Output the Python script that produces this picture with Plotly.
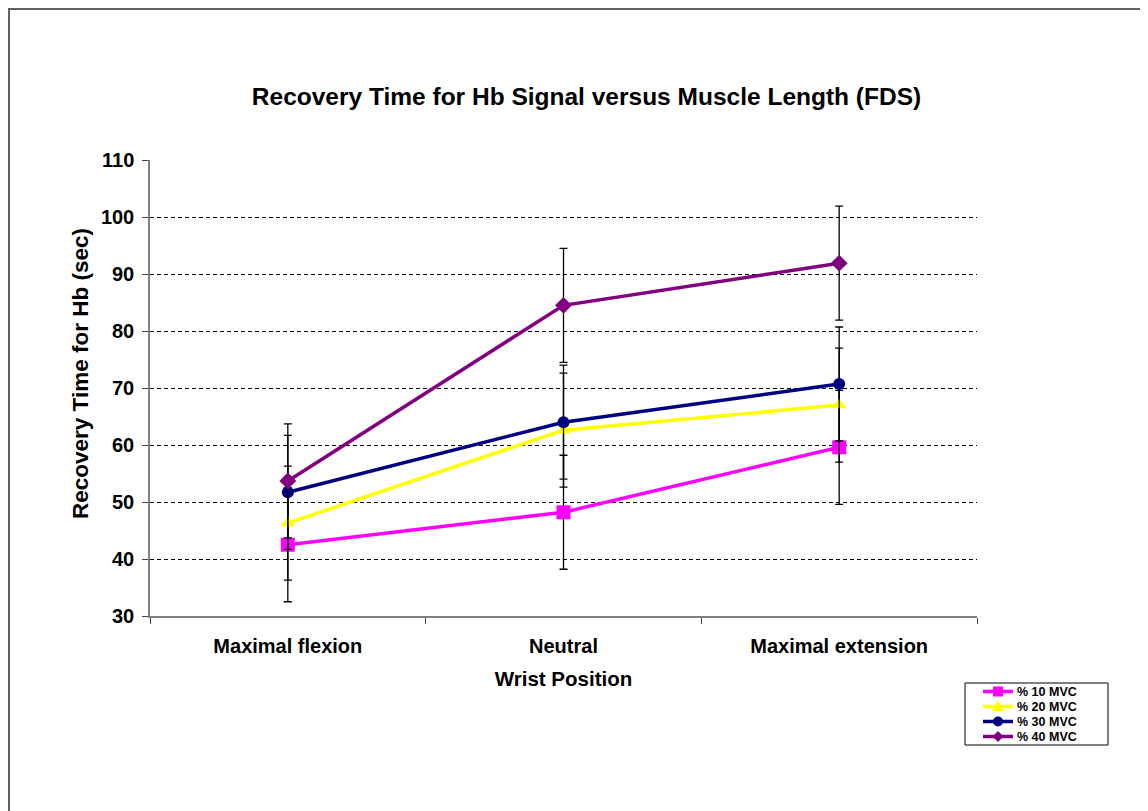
import plotly.graph_objects as go

categories = ["Maximal flexion", "Neutral", "Maximal extension"]
series_names = ["% 10 MVC", "% 20 MVC", "% 30 MVC", "% 40 MVC"]
mvc10 = [42.5, 48.2, 59.6]
mvc20 = [46.3, 62.6, 67.0]
mvc30 = [51.7, 64.0, 70.7]
mvc40 = [53.7, 84.5, 91.9]
err10 = [10, 10, 10]
err20 = [10, 10, 10]
err30 = [10, 10, 10]
err40 = [10, 10, 10]
y_ticks = [30, 40, 50, 60, 70, 80, 90, 100, 110]

values = [mvc10, mvc20, mvc30, mvc40]
errors = [err10, err20, err30, err40]
colors = ["#FF00FF", "#FFFF00", "#000080", "#800080"]
symbols = ["square", "triangle-up", "circle", "diamond"]
msizes = [14, 13, 12, 13]

FONT = "Liberation Sans, Arial, sans-serif"

fig = go.Figure()
for name, vals, errs, col, sym, ms in zip(series_names, values, errors, colors, symbols, msizes):
    fig.add_trace(go.Scatter(
        x=categories, y=vals, name=name, mode="lines+markers",
        line=dict(color=col, width=3.5),
        marker=dict(symbol=sym, size=ms, color=col),
        error_y=dict(type="data", array=errs, visible=True, color="black",
                     thickness=1.3, width=4),
        showlegend=False,
    ))

# figure is shown with an 8px page margin, so everything is laid out 8px up/left
W, H = 1140, 803
L, R, T, B = 142, 969, 152, 608


def px(x):
    return (x - L) / (R - L)


def py(y):
    return (B - y) / (B - T)


shapes = [
    dict(type="line", xref="paper", yref="paper", x0=px(0), x1=px(1140), y0=py(1), y1=py(1),
         line=dict(color="#606060", width=2)),
    dict(type="line", xref="paper", yref="paper", x0=px(1), x1=px(1), y0=py(0), y1=py(810),
         line=dict(color="#606060", width=2)),
    dict(type="line", xref="paper", yref="paper", x0=px(1139), x1=px(1139), y0=py(0), y1=py(810),
         line=dict(color="#C8C8C8", width=1)),
]

# manual compact legend
lx0, lx1, ly0, ly1 = 957, 1100, 675, 737
shapes.append(dict(type="rect", xref="paper", yref="paper", x0=px(lx0), x1=px(lx1),
                   y0=py(ly0), y1=py(ly1), line=dict(color="black", width=1),
                   fillcolor="white"))
annotations = []
row_y = [683.5, 698.5, 713.5, 728.5]
mx = 990
for name, col, sym, ry in zip(series_names, colors, symbols, row_y):
    shapes.append(dict(type="line", xref="paper", yref="paper", x0=px(975), x1=px(1005),
                       y0=py(ry), y1=py(ry), line=dict(color=col, width=3.5)))
    if sym == "square":
        shapes.append(dict(type="rect", xref="paper", yref="paper", x0=px(mx - 5), x1=px(mx + 5),
                           y0=py(ry - 5), y1=py(ry + 5), line=dict(width=0), fillcolor=col))
    elif sym == "circle":
        shapes.append(dict(type="circle", xref="paper", yref="paper", x0=px(mx - 5), x1=px(mx + 5),
                           y0=py(ry - 5), y1=py(ry + 5), line=dict(width=0), fillcolor=col))
    elif sym == "triangle-up":
        path = "M %f,%f L %f,%f L %f,%f Z" % (px(mx), py(ry - 6), px(mx - 6), py(ry + 4.5),
                                               px(mx + 6), py(ry + 4.5))
        shapes.append(dict(type="path", xref="paper", yref="paper", path=path,
                           line=dict(width=0), fillcolor=col))
    else:
        path = "M %f,%f L %f,%f L %f,%f L %f,%f Z" % (px(mx), py(ry - 5.5), px(mx + 5.5), py(ry),
                                                       px(mx), py(ry + 5.5), px(mx - 5.5), py(ry))
        shapes.append(dict(type="path", xref="paper", yref="paper", path=path,
                           line=dict(width=0), fillcolor=col))
    annotations.append(dict(text="<b>" + name + "</b>", xref="paper", yref="paper",
                            x=px(1007), y=py(ry), xanchor="left", yanchor="middle",
                            showarrow=False, font=dict(size=12.5, family=FONT, color="black")))

# y-axis title (placed like the original, slightly above the plot centre)
annotations.append(dict(text="<b>Recovery Time for Hb (sec)</b>", xref="paper", yref="paper",
                        x=px(72), y=py(366), xanchor="center", yanchor="middle",
                        textangle=-90, showarrow=False,
                        font=dict(size=22.5, family=FONT, color="black")))

fig.update_layout(
    width=W, height=H,
    margin=dict(l=L, r=W - R, t=T, b=H - B),
    paper_bgcolor="white", plot_bgcolor="white",
    font=dict(family=FONT, color="black"),
    title=dict(text="<b>Recovery Time for Hb Signal versus Muscle Length (FDS)</b>",
               font=dict(size=24.5), x=578.5 / W, xanchor="center", xref="container",
               y=1 - 88 / H, yanchor="middle", yref="container"),
    showlegend=False,
    shapes=shapes,
    annotations=annotations,
)

fig.update_xaxes(
    type="category", range=[-0.5, 2.5],
    showline=True, linecolor="#808080", linewidth=1.5,
    ticks="outside", tickson="boundaries", ticklen=6, tickcolor="#404040",
    tickfont=dict(size=20), ticklabelstandoff=11,
    tickvals=categories, ticktext=["<b>" + c + "</b>" for c in categories],
    showgrid=False, zeroline=False,
    title=dict(text="<b>Wrist Position</b>", font=dict(size=20.5), standoff=16),
)
fig.update_yaxes(
    range=[30, 110], tickvals=y_ticks, ticktext=["<b>%d</b>" % v for v in y_ticks],
    showline=True, linecolor="#808080", linewidth=1.5,
    ticks="outside", ticklen=6, tickcolor="#404040",
    tickfont=dict(size=20), ticklabelstandoff=4,
    showgrid=True, gridcolor="black", gridwidth=1, griddash="4px,3px",
    zeroline=False,
)

fig.write_html("out.html")
